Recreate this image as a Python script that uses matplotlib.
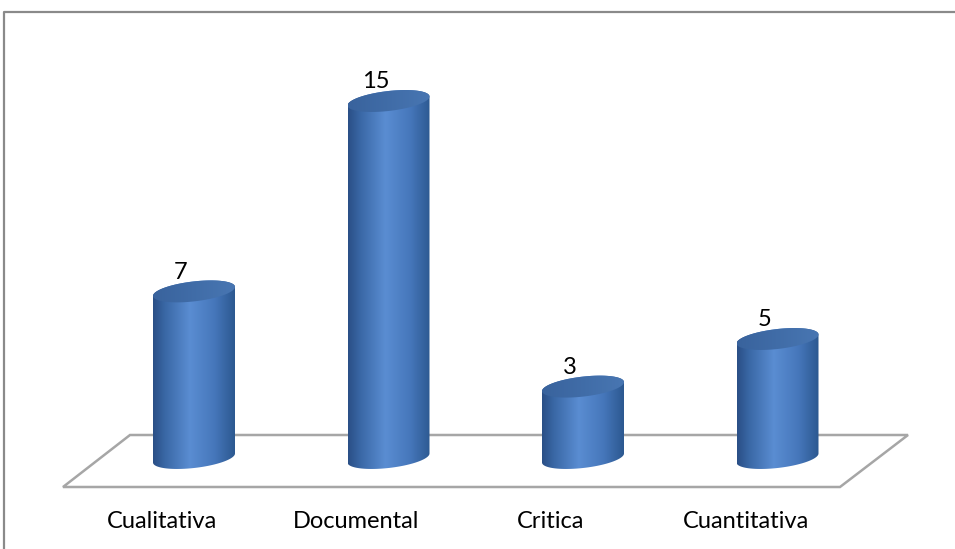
import numpy as np
import matplotlib
matplotlib.use("Agg")
import matplotlib.pyplot as plt
from matplotlib.patches import Polygon
from matplotlib.colors import LinearSegmentedColormap

categories = ["Cualitativa", "Documental", "Critica", "Cuantitativa"]
values = [7, 15, 3, 5]

plt.rcParams['font.family'] = ['Lato', 'DejaVu Sans']

fig = plt.figure(figsize=(9.55, 5.49), dpi=100)
ax = fig.add_axes([0, 0, 1, 1])

# pixel scale: 194.5 px per category, 23.8 px per unit, baseline at 91 px from bottom
px_x, px_y, base_px = 194.5, 23.8, 91
ax.set_xlim(-194 / px_x, (955 - 194) / px_x)
ax.set_ylim(-base_px / px_y, (549 - base_px) / px_y)
ax.axis("off")

# outer chart border (gray frame), only top and left edges fall inside the image
ax.plot([4 / 955, 4 / 955, 1.0], [0.0, (549 - 12) / 549, (549 - 12) / 549],
        transform=ax.transAxes, color="#8a8a8a", lw=1.6,
        solid_capstyle="butt")

# floor of the 3D plot
floor = [(130, 549 - 435), (908, 549 - 435), (840, 549 - 487), (63, 549 - 487)]
floor = [(x / 955, y / 549) for x, y in floor]
ax.add_patch(Polygon(floor, closed=True, transform=ax.transAxes, fill=False,
                     ec="#a6a6a6", lw=1.8, zorder=1))

# cylinder geometry in data units
a = 41 / px_x          # half width
b = 10 / px_y          # ellipse semi-height
s = 4.5 / px_y         # tilt of the ellipses
cmap = LinearSegmentedColormap.from_list(
    "cyl", [(0, "#2a4f86"), (0.15, "#3a68a6"), (0.45, "#5a8dd2"),
            (0.75, "#4677bb"), (1, "#2c5890")])
cap_cmap = LinearSegmentedColormap.from_list("cap", ["#39639d", "#4876b2"])

t_lo = np.linspace(np.pi, 2 * np.pi, 60)
t_hi = np.linspace(0, np.pi, 60)
t_all = np.linspace(0, 2 * np.pi, 120)

for i, (cat, v) in enumerate(zip(categories, values)):
    cx = i
    # side of the cylinder: bottom front arc, then top back arc
    bx = cx + a * np.cos(t_lo)
    by = 0 + b * np.sin(t_lo) + s * np.cos(t_lo)
    tx = cx + a * np.cos(t_hi)
    ty = v + b * np.sin(t_hi) + s * np.cos(t_hi)
    side = np.column_stack([np.r_[bx, tx], np.r_[by, ty]])
    side_patch = Polygon(side, closed=True, fc="none", ec="none", zorder=3)
    ax.add_patch(side_patch)
    grad = np.linspace(0, 1, 256).reshape(1, -1)
    im = ax.imshow(grad, cmap=cmap, aspect="auto", zorder=3,
                   extent=[cx - a, cx + a, -b - s - 0.2, v + b + s + 0.2])
    im.set_clip_path(side_patch)

    # top cap
    cap = np.column_stack([cx + a * np.cos(t_all),
                           v + b * np.sin(t_all) + s * np.cos(t_all)])
    cap_patch = Polygon(cap, closed=True, fc="none", ec="none", zorder=4)
    ax.add_patch(cap_patch)
    cg = np.linspace(0, 1, 64).reshape(1, -1)
    cim = ax.imshow(cg, cmap=cap_cmap, aspect="auto", zorder=4,
                    extent=[cx - a, cx + a, v - b - s, v + b + s])
    cim.set_clip_path(cap_patch)

    # value label above the cap
    ax.text(cx - 13 / px_x, v + 19 / px_y, str(v), ha="center", va="center",
            fontsize=17, color="black", zorder=5)
    # category label under the floor
    ax.text(cx - 32 / px_x, -(521 - 458) / px_y, cat, ha="center",
            va="center", fontsize=17, color="black")

ax.set_xlim(-194 / px_x, (955 - 194) / px_x)
ax.set_ylim(-base_px / px_y, (549 - base_px) / px_y)

fig.savefig("out.png", dpi=100)
